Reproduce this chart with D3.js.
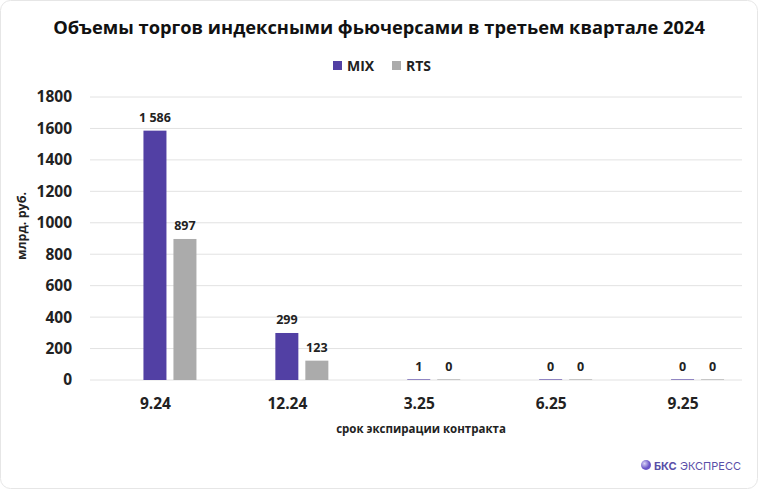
<!DOCTYPE html>
<html><head><meta charset="utf-8">
<script src="https://cdn.jsdelivr.net/npm/d3@7/dist/d3.min.js"></script>
<style>
html,body{margin:0;padding:0;background:#fff;}
svg{display:block;font-family:"Open Sans",sans-serif;}
</style></head>
<body>
<script>
const categories = ["9.24","12.24","3.25","6.25","9.25"];
const seriesNames = ["MIX","RTS"];
const mixValues = [1586, 299, 1, 0, 0];
const rtsValues = [897, 123, 0, 0, 0];
const yTicks = [0,200,400,600,800,1000,1200,1400,1600,1800];
const colors = {MIX:"#5240A4", RTS:"#ABABAB"};

const W = 758, H = 489;
const svg = d3.select("body").append("svg").attr("width",W).attr("height",H);

svg.append("rect").attr("x",0.5).attr("y",0.5).attr("width",W-1).attr("height",H-1)
  .attr("rx",10).attr("fill","#fff").attr("stroke","#e6e6e6");

svg.append("text").attr("x",379).attr("y",34).attr("text-anchor","middle")
  .attr("font-size",18.3).attr("font-weight",700).attr("fill","#111")
  .text("Объемы торгов индексными фьючерсами в третьем квартале 2024");

// legend
const leg = svg.append("g");
[["MIX",333],["RTS",392]].forEach(([n,x])=>{
  leg.append("rect").attr("x",x).attr("y",61).attr("width",9).attr("height",9).attr("fill",colors[n]);
  leg.append("text").attr("x",x+14).attr("y",71).attr("font-size",14).attr("font-weight",700).attr("fill","#222").text(n);
});

const y = d3.scaleLinear().domain([0,1800]).range([380,97]);
const x0 = d3.scaleBand().domain(categories).range([89.5,749]).paddingInner(0);
const x1 = d3.scaleBand().domain(seriesNames).range([-12,41]).paddingInner(0.233);

// gridlines
svg.append("g").selectAll("line").data(yTicks).join("line")
  .attr("x1",90).attr("x2",742).attr("y1",d=>y(d)).attr("y2",d=>y(d))
  .attr("stroke","#e2e2e2").attr("stroke-width",1);

// y axis labels
const yAxis = d3.axisLeft(y).tickValues(yTicks).tickSize(0).tickPadding(0).tickFormat(d=>String(d));
const ya = svg.append("g").attr("transform","translate(72,0)").call(yAxis);
ya.select(".domain").remove();
ya.selectAll("text").attr("font-size",15.5).attr("font-weight",700).attr("fill","#222")
  .attr("font-family","Open Sans, sans-serif");

svg.append("text").attr("transform","translate(25.5,226) rotate(-90)").attr("text-anchor","middle")
  .attr("font-size",12.5).attr("font-weight",700).attr("fill","#222").text("млрд. руб.");

// x axis labels
const xAxis = d3.axisBottom(x0).tickSize(0).tickPadding(0);
const xa = svg.append("g").attr("transform","translate(0,398)").call(xAxis);
xa.select(".domain").remove();
xa.selectAll("text").attr("font-size",15.5).attr("font-weight",700).attr("fill","#222")
  .attr("font-family","Open Sans, sans-serif");

svg.append("text").attr("x",421).attr("y",433).attr("text-anchor","middle")
  .attr("font-size",11.5).attr("font-weight",700).attr("fill","#222").text("срок экспирации контракта");

const data = [];
categories.forEach((c,i)=>{
  data.push({c, s:"MIX", v:mixValues[i]});
  data.push({c, s:"RTS", v:rtsValues[i]});
});
const fmt = v => d3.format(",")(v).replace(/,/g," ");

const bw = x1.bandwidth();
svg.append("g").selectAll("rect").data(data).join("rect")
  .attr("x",d=>x0(d.c)+x0.bandwidth()/2+x1(d.s))
  .attr("y",d=>Math.min(y(d.v), y(0)-1))
  .attr("width",bw)
  .attr("height",d=>Math.max(y(0)-y(d.v),1))
  .attr("fill",d=>colors[d.s]).attr("opacity",d=>d.v<5?0.6:1);

svg.append("g").selectAll("text").data(data).join("text")
  .attr("x",d=>x0(d.c)+x0.bandwidth()/2+x1(d.s)+bw/2)
  .attr("y",d=>y(d.v)-9)
  .attr("text-anchor","middle").attr("font-size",12.5).attr("font-weight",700).attr("fill","#222")
  .text(d=>fmt(d.v));

// watermark
const wm = svg.append("g");
const grad = svg.append("defs").append("radialGradient").attr("id","g1").attr("cx","35%").attr("cy","35%");
grad.append("stop").attr("offset","0%").attr("stop-color","#d9d3f5");
grad.append("stop").attr("offset","100%").attr("stop-color","#6a55c8");
wm.append("circle").attr("cx",646).attr("cy",465).attr("r",5).attr("fill","url(#g1)");
wm.append("text").attr("x",654).attr("y",469.5).attr("font-size",11).attr("font-weight",700)
  .attr("fill","#5a4fa8").attr("font-family","Inter, sans-serif").text("БКС");
wm.append("text").attr("x",680).attr("y",469.5).attr("font-size",11).attr("font-weight",400)
  .attr("fill","#5a4fa8").attr("font-family","Inter, sans-serif").text("ЭКСПРЕСС");
</script>
</body></html>
